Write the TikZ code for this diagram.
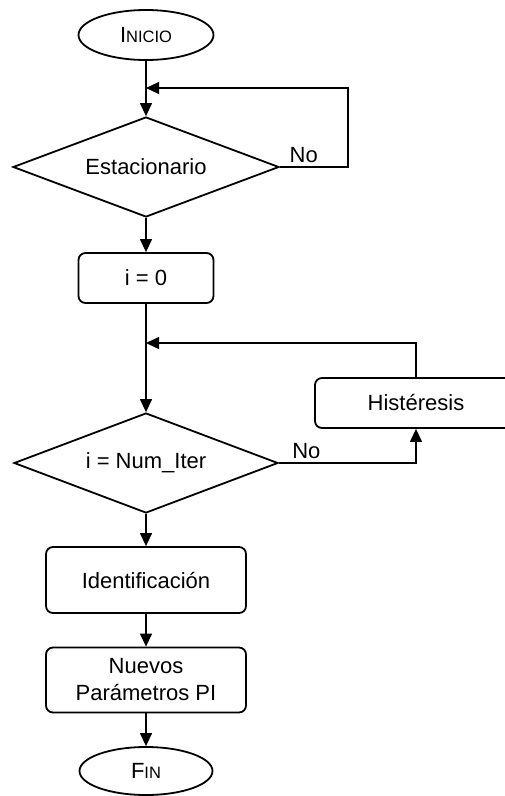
\documentclass[tikz,border=0pt]{standalone}
\usepackage{fontspec}
\setmainfont{Liberation Sans}
\usetikzlibrary{shapes.geometric,arrows.meta}

\begin{document}
\begin{tikzpicture}[x=1pt,y=-1pt,
    every node/.style={font=\fontsize{22}{27}\selectfont},
    term/.style={draw, ellipse, line width=1.8pt, inner sep=0pt},
    proc/.style={draw, rectangle, rounded corners=7pt, line width=1.8pt, align=center, inner sep=0pt},
    cond/.style={draw, diamond, aspect=2.6, line width=1.8pt, inner sep=0pt},
    flow/.style={line width=1.3pt, -{Triangle[length=13pt,width=12pt]}}]
    \useasboundingbox (0,0) rectangle (504,796);
    % start, steady state test
    \node at (146,35) [term, minimum width=135, minimum height=50] (inicio) {I{\fontsize{16.5}{20}\selectfont NICIO}};
    \node at (146,167) [cond, minimum width=266, minimum height=100] (est) {Estacionario};
    \coordinate (j1) at (146,88);
    \draw[flow] (inicio) -- (est);
    \draw[flow] (est.east) -- node[pos=0.35, above] {No} ++(68,0) |- (j1);
    % iteration loop
    \node at (146,278) [proc, minimum width=135, minimum height=50] (i0) {i = 0};
    \node at (146,463) [cond, minimum width=264, minimum height=100] (iter) {i = Num\_Iter};
    \node at (416,403) [proc, minimum width=202, minimum height=50] (hist) {Histéresis};
    \coordinate (j2) at (146,343);
    \draw[flow] (est) -- (i0);
    \draw[flow] (i0) -- (iter);
    \draw[flow] (iter.east) -| node[pos=0.1, above] {No} (hist.south);
    \draw[flow] (hist.north) |- (j2);
    % identification and end
    \node at (146,580) [proc, minimum width=200, minimum height=66] (ident) {Identificación};
    \node at (146,680) [proc, minimum width=200, minimum height=65] (nuevos) {Nuevos\\Parámetros PI};
    \node at (146,771) [term, minimum width=133, minimum height=48] (fin) {F{\fontsize{16.5}{20}\selectfont IN}};
    \draw[flow] (iter) -- (ident);
    \draw[flow] (ident) -- (nuevos);
    \draw[flow] (nuevos) -- (fin);
\end{tikzpicture}
\end{document}
